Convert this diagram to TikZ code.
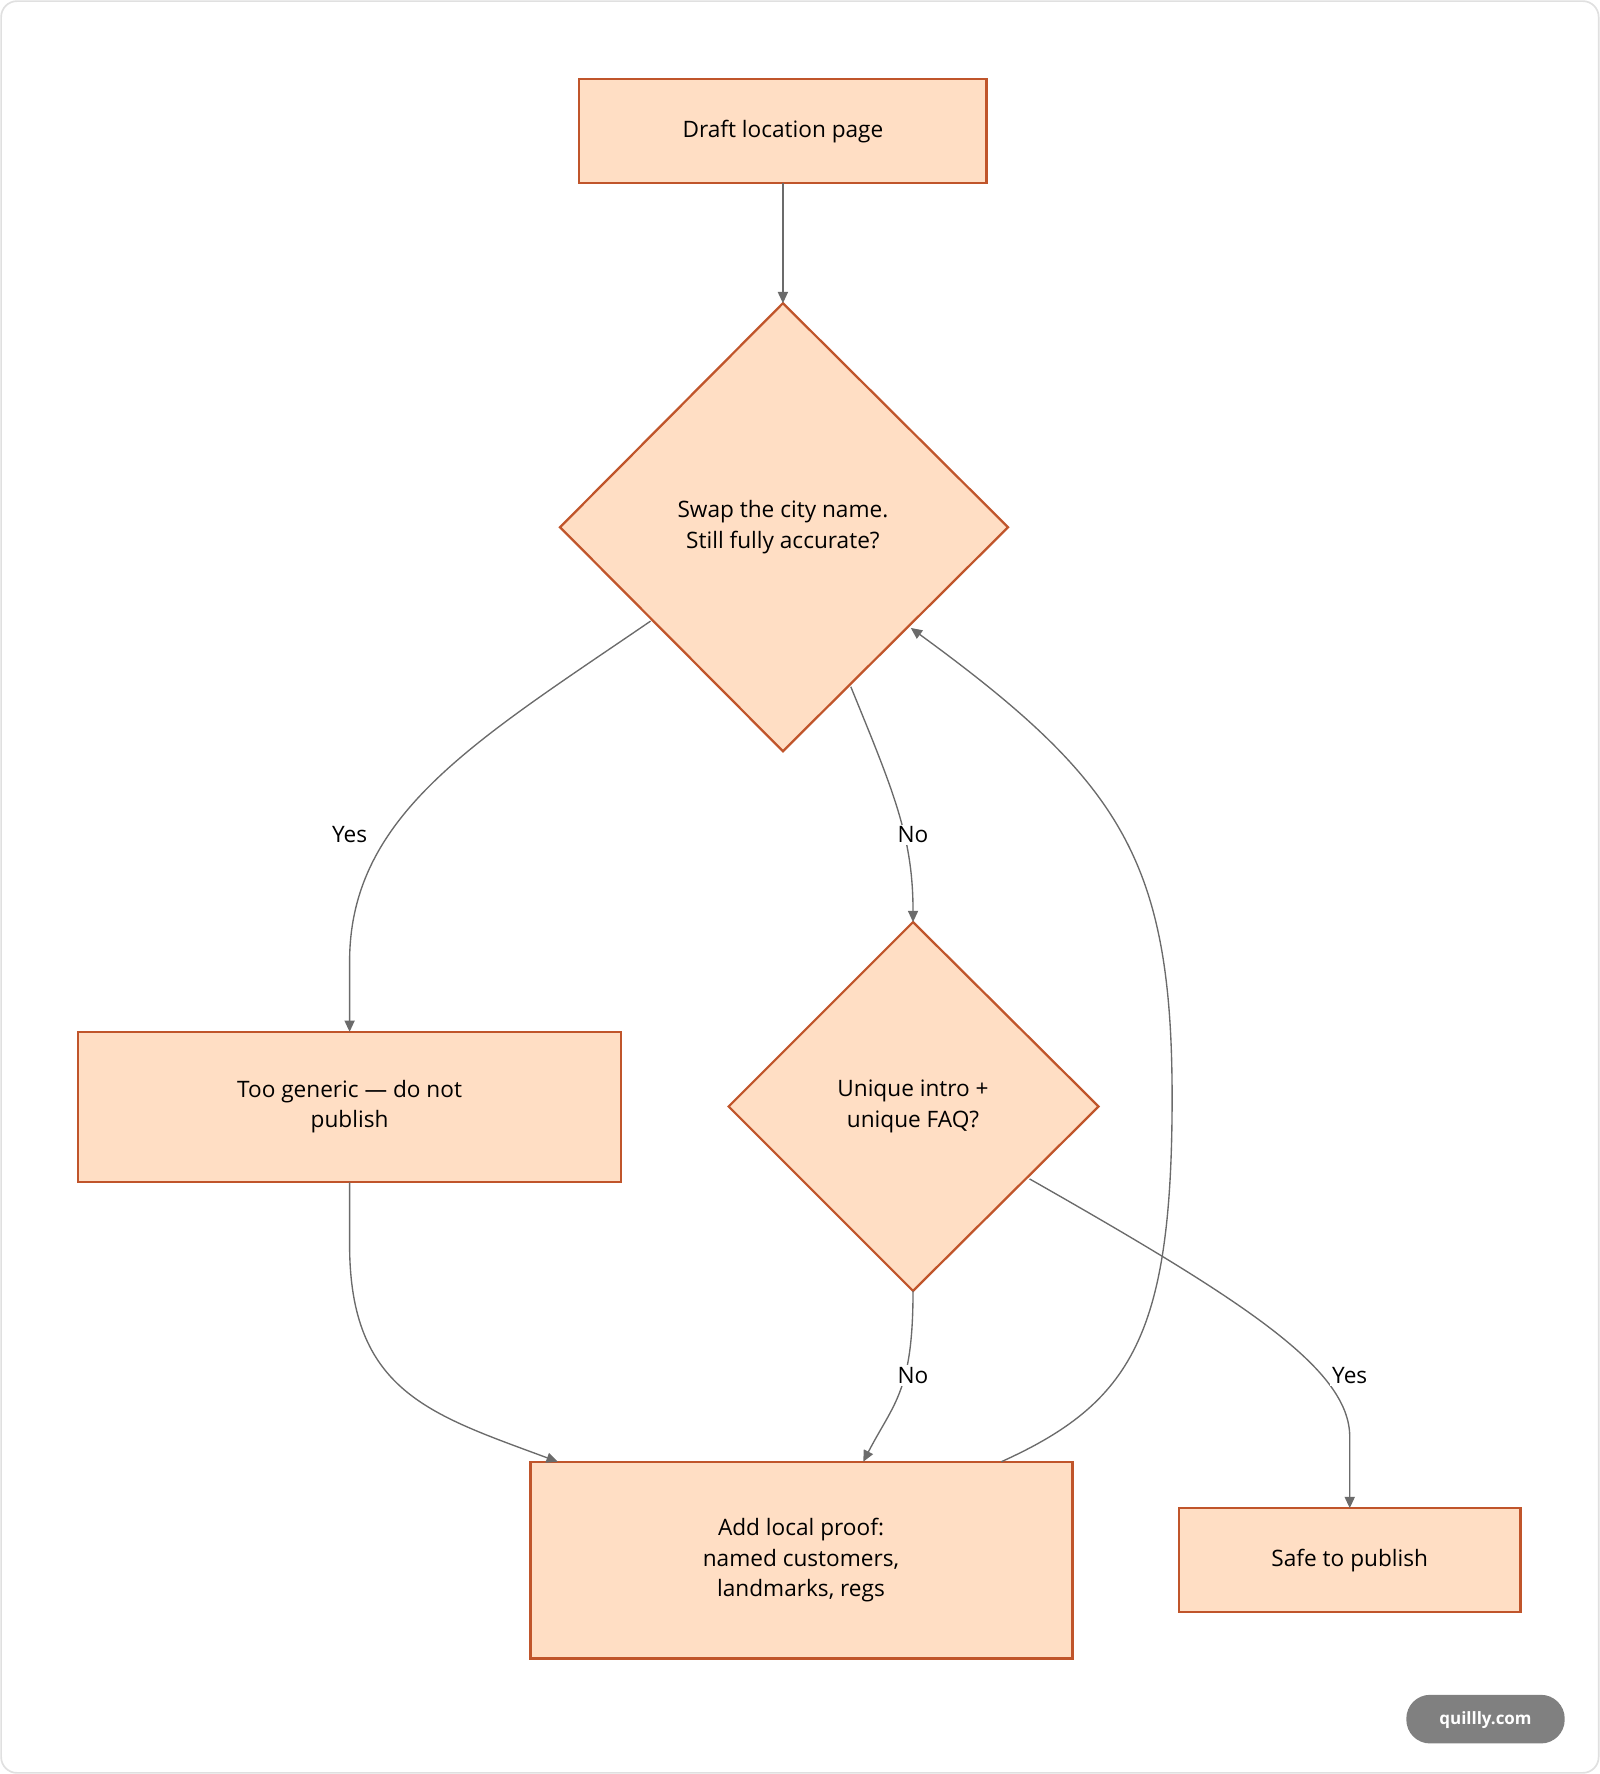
\documentclass[tikz,border=0pt]{standalone}
\usepackage{fontspec}
\setmainfont{Open Sans}
\usetikzlibrary{arrows.meta}
\definecolor{nfill}{HTML}{FFDEC4}
\definecolor{nline}{HTML}{C0552B}
\definecolor{eline}{HTML}{6B6B6B}
\begin{document}
\begin{tikzpicture}[x=1pt,y=-1pt,
  box/.style={draw=nline,fill=nfill,line width=2pt},
  lbl/.style={font=\fontsize{20}{27}\selectfont,align=center,text=black},
  elbl/.style={font=\fontsize{20}{24}\selectfont,fill=white,inner sep=2pt},
  edge/.style={draw=eline,line width=1.2pt,-{Triangle[length=10pt,width=9pt]}}]
\useasboundingbox (0,0) rectangle (1414,1568);
\draw[draw=black!12,line width=1.5pt,rounded corners=14pt] (1,1) rectangle (1413,1567);
% nodes
\draw[box] (512,70) rectangle (872,162);
\node[lbl] (draft) at (692,116) {Draft location page};
\coordinate (draftb) at (692,162);
\draw[box] (692,268) -- (891,466) -- (692,664) -- (495,466) -- cycle;
\node[lbl] (d1) at (692,466) {Swap the city name.\\Still fully accurate?};
\coordinate (d1t) at (692,268);
\draw[box] (69,912) rectangle (549,1045);
\node[lbl] (gen) at (309,978) {Too generic — do not\\publish};
\draw[box] (807,815) -- (971,978) -- (807,1141) -- (644,978) -- cycle;
\node[lbl] (d2) at (807,978) {Unique intro +\\unique FAQ?};
\draw[box] (469,1292) rectangle (948,1466);
\node[lbl] (proof) at (708,1379) {Add local proof:\\named customers,\\landmarks, regs};
\draw[box] (1042,1333) rectangle (1344,1425);
\node[lbl] (safe) at (1193,1379) {Safe to publish};
% coordinates
\coordinate (a1) at (575,549);
\coordinate (a2) at (309,912);
\coordinate (b1) at (752,607);
\coordinate (b2) at (807,815);
\coordinate (c1) at (807,1141);
\coordinate (c2) at (763,1292);
\coordinate (e1) at (910,1042);
\coordinate (e2) at (1193,1333);
\coordinate (f1) at (309,1045);
\coordinate (f2) at (493,1292);
\coordinate (g1) at (885,1292);
\coordinate (g2) at (805,555);
% edges
\draw[edge] (draftb) -- (d1t);
\draw[edge] (a1) .. controls (420,655) and (309,720) .. (309,850) -- (a2);
\node[elbl] at (309,738) {Yes};
\draw[edge] (b1) .. controls (790,700) and (807,740) .. (b2);
\node[elbl] at (807,738) {No};
\draw[edge] (c1) .. controls (807,1230) and (790,1240) .. (c2);
\node[elbl] at (807,1216) {No};
\draw[edge] (e1) .. controls (1100,1150) and (1193,1210) .. (1193,1270) -- (e2);
\node[elbl] at (1193,1216) {Yes};
\draw[edge] (f1) -- (309,1100) .. controls (309,1230) and (380,1250) .. (f2);
\draw[edge] (g1) .. controls (1000,1240) and (1036,1180) .. (1036,970)
  .. controls (1036,760) and (990,690) .. (g2);
% watermark
\fill[black!50,rounded corners=21pt] (1243,1498) rectangle (1383,1541);
\node[font=\fontsize{15}{18}\selectfont\bfseries,text=white] (wm) at (1313,1520) {quillly.com};
\end{tikzpicture}
\end{document}
